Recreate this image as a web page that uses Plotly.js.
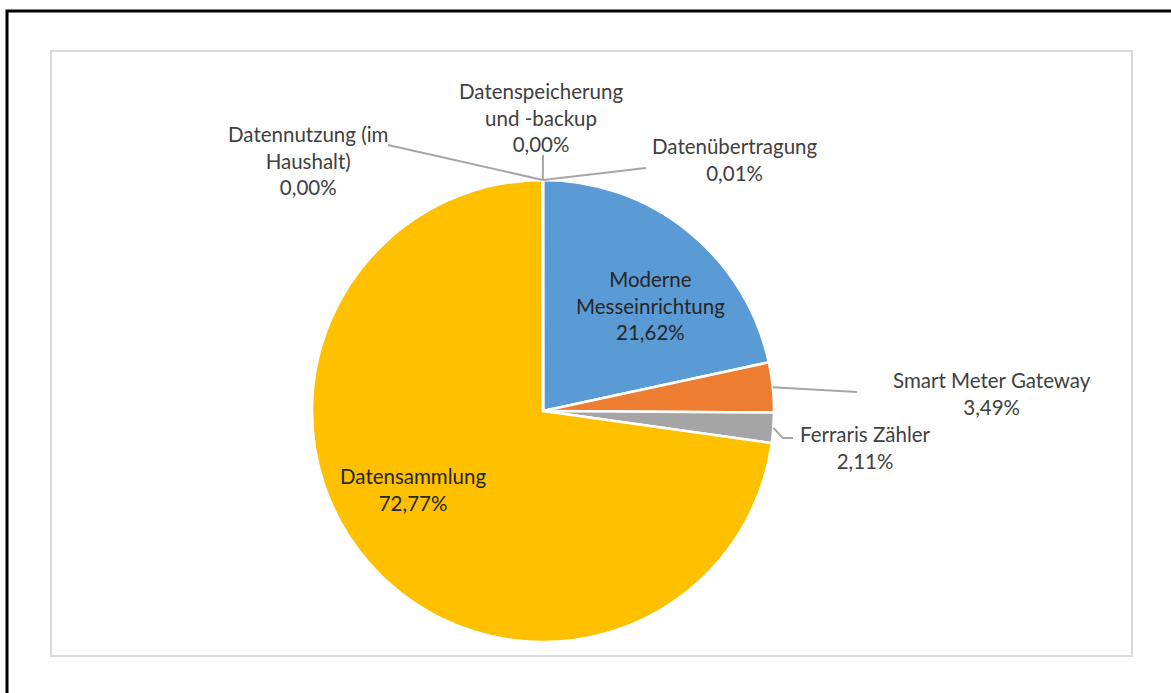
<!DOCTYPE html>
<html>
<head>
<meta charset="utf-8">
<script src="https://cdn.plot.ly/plotly-3.0.1.min.js"></script>
<style>
  html, body { margin: 0; padding: 0; background: #ffffff; }
  #chart { width: 1171px; height: 693px; }
</style>
</head>
<body>
<div id="chart"></div>
<script>
// ---- data ----
const labels = [
  'Moderne<br>Messeinrichtung',
  'Smart Meter Gateway',
  'Ferraris Zähler',
  'Datensammlung',
  'Datennutzung (im<br>Haushalt)',
  'Datenspeicherung<br>und -backup',
  'Datenübertragung'
];
const values = [21.62, 3.49, 2.11, 72.77, 0.00, 0.00, 0.01];
const colors = ['#5B9BD5', '#ED7D31', '#A5A5A5', '#FFC000', '#4472C4', '#70AD47', '#264478'];

// ---- layout constants (pixels) ----
const W = 1171, H = 693;
const cx = 543, cy = 411, R = 231;
const px = x => x / W;
const py = y => 1 - y / H;

// label placement per slice: [centerX, centerY, inside?, leaderEnd points or null]
const labelPos = [
  [650, 306, true, null],
  [992, 393, false, [[857, 392]]],
  [865, 447, false, [[783, 438], [793, 438]]],
  [413, 489, true, null],
  [308, 161, false, [[388, 145]]],
  [541, 118, false, [[543, 155]]],
  [735, 159, false, [[646, 168]]]
];

const total = values.reduce((a, b) => a + b, 0);
const fmt = v => v.toFixed(2).replace('.', ',') + '%';

const annotations = [];
const shapes = [];
let cum = 0;
values.forEach((v, i) => {
  const mid = (cum + v / 2) / total * 2 * Math.PI;
  cum += v;
  const [lx, ly, inside, leader] = labelPos[i];
  annotations.push({
    xref: 'paper', yref: 'paper',
    x: px(lx), y: py(ly),
    xanchor: 'center', yanchor: 'middle',
    showarrow: false,
    align: 'center',
    text: labels[i] + '<br>' + fmt(v),
    font: { family: 'Lato, "Open Sans", sans-serif', size: 20.5, color: inside ? '#262626' : '#404040' }
  });
  if (leader) {
    const sx = cx + R * Math.sin(mid);
    const sy = cy - R * Math.cos(mid);
    let d = 'M ' + px(sx) + ' ' + py(sy);
    leader.forEach(p => { d += ' L ' + px(p[0]) + ' ' + py(p[1]); });
    shapes.push({
      type: 'path', xref: 'paper', yref: 'paper', path: d,
      line: { color: '#A6A6A6', width: 2 }
    });
  }
});

// frame shapes
shapes.push({
  type: 'rect', xref: 'paper', yref: 'paper',
  x0: px(51), x1: px(1132), y0: py(656), y1: py(51),
  line: { color: '#D9D9D9', width: 2 }, fillcolor: 'rgba(0,0,0,0)'
});
shapes.push({
  type: 'path', xref: 'paper', yref: 'paper',
  path: 'M ' + px(7) + ' 0 L ' + px(7) + ' ' + py(11) + ' L 1 ' + py(11),
  line: { color: '#000000', width: 3 }
});

const trace = {
  type: 'pie',
  labels: labels,
  values: values,
  sort: false,
  direction: 'clockwise',
  rotation: 0,
  marker: { colors: colors, line: { color: '#ffffff', width: 2.5 } },
  textinfo: 'none',
  hoverinfo: 'label+percent',
  showlegend: false,
  domain: { x: [px(cx - R), px(cx + R)], y: [py(cy + R), py(cy - R)] }
};

const layout = {
  width: W, height: H,
  margin: { l: 0, r: 0, t: 0, b: 0 },
  paper_bgcolor: '#ffffff',
  showlegend: false,
  separators: ',.',
  annotations: annotations,
  shapes: shapes
};

Plotly.newPlot('chart', [trace], layout, { displayModeBar: false, staticPlot: true });
</script>
</body>
</html>
